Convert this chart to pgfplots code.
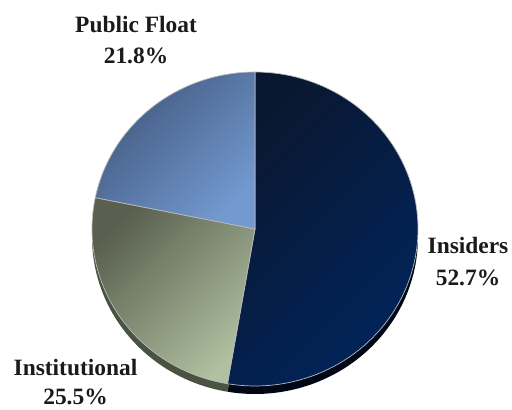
\documentclass[border=0pt]{standalone}
\usepackage{fontspec}
\setmainfont{Liberation Serif}
\usepackage{pgfplots}
\usepackage{pgfplotstable}
\pgfplotsset{compat=1.18}
\definecolor{insD}{HTML}{0A1730}
\definecolor{insL}{HTML}{01245A}
\definecolor{instD}{HTML}{59604F}
\definecolor{instL}{HTML}{B0C0A0}
\definecolor{pubD}{HTML}{41597F}
\definecolor{pubL}{HTML}{7399D0}
\definecolor{insR}{HTML}{000816}
\definecolor{instR}{HTML}{4A5242}
\definecolor{txt}{HTML}{1A1A1A}
\pgfplotstableread{
label share
Insiders 52.7
Institutional 25.5
PublicFloat 21.8
}\shares
\pgfplotstablegetelem{0}{share}\of\shares \let\sA\pgfplotsretval
\pgfplotstablegetelem{1}{share}\of\shares \let\sB\pgfplotsretval
\pgfplotstablegetelem{2}{share}\of\shares \let\sC\pgfplotsretval
\pgfmathsetmacro\aA{90}
\pgfmathsetmacro\aB{90-3.6*\sA}
\pgfmathsetmacro\aC{\aB-3.6*\sB}
\pgfmathsetmacro\aD{\aC-3.6*\sC}
\def\cx{255}\def\cy{181}\def\rx{163}\def\ry{157}\def\dz{8}
\begin{document}
\begin{tikzpicture}
\begin{axis}[
  scale only axis, width=512bp, height=410bp,
  xmin=0, xmax=512, ymin=0, ymax=410,
  hide axis, clip=false,
  samples=90, variable=\t,
]
% rim (3D thickness)
\addplot[draw=none, fill=insR, domain=\aB:\aA]
  ({\cx+\rx*cos(\t)},{\cy-\dz+\ry*sin(\t)}) -- (axis cs:\cx,\cy-\dz) -- cycle;
\addplot[draw=none, fill=instR, domain=\aC:\aB]
  ({\cx+\rx*cos(\t)},{\cy-\dz+\ry*sin(\t)}) -- (axis cs:\cx,\cy-\dz) -- cycle;
% top faces
\addplot[draw=gray!55, line width=0.7pt, top color=insD, bottom color=insL, shading angle=45, domain=\aB:\aA]
  ({\cx+\rx*cos(\t)},{\cy+\ry*sin(\t)}) -- (axis cs:\cx,\cy) -- cycle;
\addplot[draw=gray!55, line width=0.7pt, top color=instD, bottom color=instL, shading angle=45, domain=\aC:\aB]
  ({\cx+\rx*cos(\t)},{\cy+\ry*sin(\t)}) -- (axis cs:\cx,\cy) -- cycle;
\addplot[draw=gray!55, line width=0.7pt, top color=pubD, bottom color=pubL, shading angle=45, domain=\aD:\aC]
  ({\cx+\rx*cos(\t)},{\cy+\ry*sin(\t)}) -- (axis cs:\cx,\cy) -- cycle;
% labels
\begin{scope}[every node/.style={anchor=base, text=txt, font=\fontsize{23.5}{28}\selectfont\bfseries, inner sep=0pt}]
\node at (axis cs:136,378) {Public Float};
\node at (axis cs:136,347) {21.8\%};
\node at (axis cs:468,157) {Insiders};
\node at (axis cs:468,125) {52.7\%};
\node at (axis cs:75.5,35) {Institutional};
\node at (axis cs:75.5,6) {25.5\%};
\end{scope}
\coordinate (ll) at (rel axis cs:0,0);
\coordinate (ur) at (rel axis cs:1,1);
\end{axis}
\pgfresetboundingbox
\useasboundingbox (ll) rectangle (ur);
\end{tikzpicture}
\end{document}
